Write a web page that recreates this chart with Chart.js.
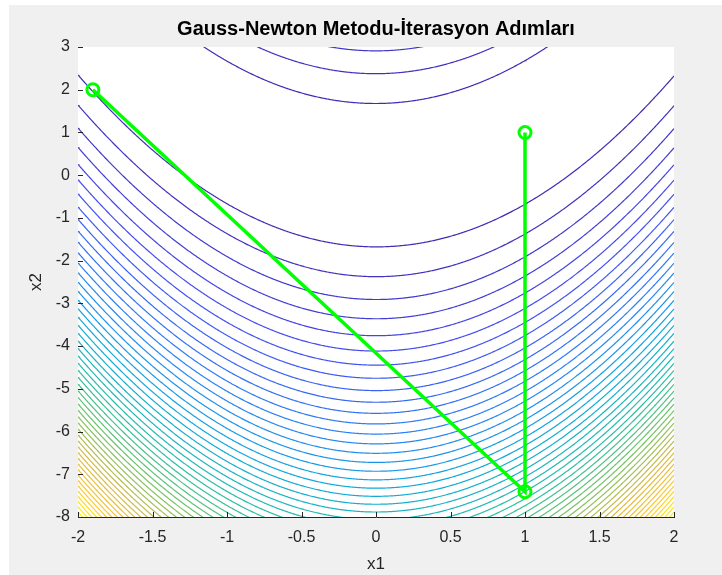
<!DOCTYPE html>
<html>
<head>
<meta charset="utf-8">
<script src="https://cdn.jsdelivr.net/npm/chart.js@4/dist/chart.umd.min.js"></script>
<style>
  html, body { margin: 0; padding: 0; background: #ffffff; }
  #wrap { position: absolute; left: 9px; top: 5px; width: 713px; height: 570px; background: #f0f0f0; }
  canvas { display: block; }
</style>
</head>
<body>
<div id="wrap"><canvas id="c" width="713" height="570"></canvas></div>
<script>
// Gauss-Newton iterates on the Rosenbrock residuals r1 = 10(x2 - x1^2), r2 = 1 - x1
const iterX1 = [-1.9, 1, 1];
const iterX2 = [2, -7.41, 1];

// axis ticks
const x1Ticks = [-2, -1.5, -1, -0.5, 0, 0.5, 1, 1.5, 2];
const x2Ticks = [-8, -7, -6, -5, -4, -3, -2, -1, 0, 1, 2, 3];
const x1Range = [-2, 2];
const x2Range = [-8, 3];

// contour levels of f = 100(x2 - x1^2)^2 + (1 - x1)^2
const contourLevels = [
  282.5, 565.1, 847.6, 1130.1, 1412.6, 1695.2, 1977.7, 2260.2, 2542.8, 2825.3,
  3107.8, 3390.4, 3672.9, 3955.4, 4237.9, 4520.5, 4803.0, 5085.5, 5368.1, 5650.6,
  5933.1, 6215.6, 6498.2, 6780.7, 7063.2, 7345.8, 7628.3, 7910.8, 8193.4, 8475.9,
  8758.4, 9040.9, 9323.5, 9606.0, 9888.5, 10171.1, 10453.6, 10736.1, 11018.6, 11301.2,
  11583.7, 11866.2, 12148.8, 12431.3, 12713.8, 12996.4, 13278.9, 13561.4, 13843.9, 14126.5
];
const colorLimits = [0, 14409];

// parula colormap stops
const parula = [
  [0.000, [62, 38, 168]],
  [0.125, [70, 78, 242]],
  [0.250, [44, 128, 246]],
  [0.375, [16, 170, 218]],
  [0.500, [40, 190, 168]],
  [0.625, [118, 196, 100]],
  [0.750, [214, 186, 74]],
  [0.875, [252, 200, 52]],
  [1.000, [249, 250, 20]]
];

function parulaColor(t) {
  t = Math.max(0, Math.min(1, t));
  for (let i = 1; i < parula.length; i++) {
    if (t <= parula[i][0]) {
      const [t0, c0] = parula[i - 1];
      const [t1, c1] = parula[i];
      const f = (t - t0) / (t1 - t0);
      const c = c0.map((v, k) => Math.round(v + f * (c1[k] - v)));
      return `rgb(${c[0]},${c[1]},${c[2]})`;
    }
  }
  const c = parula[parula.length - 1][1];
  return `rgb(${c[0]},${c[1]},${c[2]})`;
}

// level curve of the Rosenbrock function: x2 = x1^2 +/- sqrt((c - (1 - x1)^2) / 100)
function levelBranch(c, sign) {
  const pts = [];
  const n = 600;
  for (let i = 0; i <= n; i++) {
    const x1 = x1Range[0] + (x1Range[1] - x1Range[0]) * i / n;
    const rest = c - (1 - x1) * (1 - x1);
    if (rest < 0) continue;
    pts.push({ x: x1, y: x1 * x1 + sign * Math.sqrt(rest / 100) });
  }
  return pts;
}

const contourSets = [];
contourLevels.forEach(c => {
  const col = parulaColor((c - colorLimits[0]) / (colorLimits[1] - colorLimits[0]));
  [1, -1].forEach(sign => {
    contourSets.push({
      data: levelBranch(c, sign),
      showLine: true,
      borderColor: col,
      borderWidth: 1.2,
      pointRadius: 0,
      tension: 0,
      clip: 0
    });
  });
});

const pathSet = {
  data: iterX1.map((x, i) => ({ x: x, y: iterX2[i] })),
  showLine: true,
  borderColor: '#00ff00',
  borderWidth: 3.5,
  pointRadius: 6,
  pointBorderWidth: 3,
  pointBorderColor: '#00ff00',
  pointBackgroundColor: 'rgba(0,0,0,0)',
  tension: 0,
  clip: 8
};

const FONT = '"Liberation Sans", Arial, Helvetica, sans-serif';
const AXIS_COLOR = '#262626';

// white plot background and inward tick marks
const axesDecor = {
  id: 'axesDecor',
  beforeDatasetsDraw(chart) {
    const { ctx, chartArea: a } = chart;
    ctx.save();
    ctx.fillStyle = '#ffffff';
    ctx.fillRect(a.left, a.top, a.right - a.left, a.bottom - a.top);
    ctx.restore();
  },
  afterDatasetsDraw(chart) {
    const { ctx, chartArea: a, scales } = chart;
    const len = 5;
    ctx.save();
    ctx.strokeStyle = AXIS_COLOR;
    ctx.lineWidth = 1;
    ctx.beginPath();
    x1Ticks.forEach(v => {
      const px = Math.round(scales.x.getPixelForValue(v)) + 0.5;
      ctx.moveTo(px, a.bottom);
      ctx.lineTo(px, a.bottom - len);
    });
    x2Ticks.forEach(v => {
      const py = Math.round(scales.y.getPixelForValue(v)) + 0.5;
      ctx.moveTo(a.left, py);
      ctx.lineTo(a.left + len, py);
    });
    ctx.stroke();
    ctx.restore();
  }
};

new Chart(document.getElementById('c'), {
  type: 'scatter',
  data: { datasets: [pathSet, ...contourSets] },
  plugins: [axesDecor],
  options: {
    responsive: false,
    animation: false,
    events: [],
    layout: { padding: { left: 0, right: 48, top: 0, bottom: 0 } },
    plugins: {
      legend: { display: false },
      tooltip: { enabled: false },
      title: {
        display: true,
        text: 'Gauss-Newton Metodu-İterasyon Adımları',
        color: '#000000',
        fullSize: false,
        font: { family: FONT, size: 20, weight: 'bold' },
        padding: { top: 12.5, bottom: 5.5 }
      }
    },
    scales: {
      x: {
        type: 'linear',
        min: x1Range[0],
        max: x1Range[1],
        afterBuildTicks: s => { s.ticks = x1Ticks.map(v => ({ value: v })); },
        afterFit: s => { s.height = 58; },
        grid: { display: false, drawTicks: false },
        border: { display: true, color: AXIS_COLOR, width: 1 },
        ticks: {
          color: AXIS_COLOR,
          padding: 11,
          maxRotation: 0,
          font: { family: FONT, size: 16 },
          callback: v => String(v)
        },
        title: {
          display: true,
          text: 'x1',
          color: AXIS_COLOR,
          font: { family: FONT, size: 17 },
          padding: { top: 0, bottom: 0 }
        }
      },
      y: {
        type: 'linear',
        min: x2Range[0],
        max: x2Range[1],
        afterBuildTicks: s => { s.ticks = x2Ticks.map(v => ({ value: v })); },
        afterFit: s => { s.width = 69; },
        grid: { display: false, drawTicks: false },
        border: { display: true, color: AXIS_COLOR, width: 1 },
        ticks: {
          color: AXIS_COLOR,
          padding: 8,
          font: { family: FONT, size: 16 },
          callback: v => String(v)
        },
        title: {
          display: true,
          text: 'x2',
          color: AXIS_COLOR,
          font: { family: FONT, size: 17 },
          padding: { top: 17, bottom: 0 }
        }
      }
    }
  }
});
</script>
</body>
</html>
